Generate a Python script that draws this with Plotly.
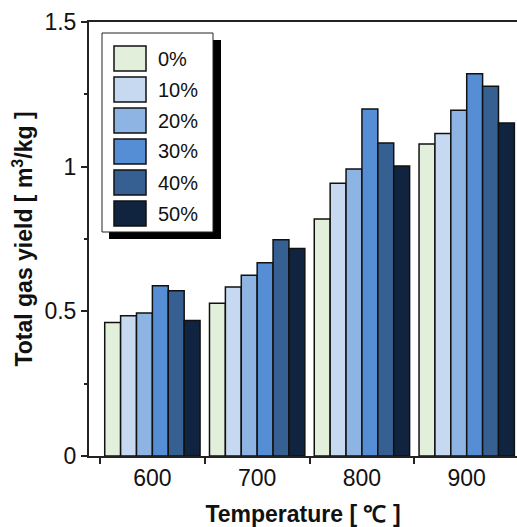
import plotly.graph_objects as go

temperatures = ["600", "700", "800", "900"]
series_names = ["0%", "10%", "20%", "30%", "40%", "50%"]
series_values = [
    [0.461, 0.528, 0.819, 1.078],
    [0.485, 0.584, 0.943, 1.115],
    [0.494, 0.625, 0.992, 1.195],
    [0.588, 0.668, 1.199, 1.321],
    [0.571, 0.747, 1.082, 1.278],
    [0.468, 0.717, 1.002, 1.151],
]
colors = ["#E2EFDA", "#C6D9F0", "#8EB4E3", "#558ED5", "#376092", "#10243F"]
y_ticks = [0, 0.5, 1, 1.5]
y_tick_labels = ["0", "0.5", "1", "1.5"]

W, H = 517, 527
L, R, T, B = 89, 0, 22, 71
FONT = "Arial, Liberation Sans, sans-serif"

fig = go.Figure()
for name, vals, col in zip(series_names, series_values, colors):
    fig.add_trace(go.Bar(
        x=temperatures, y=vals, name=name,
        marker=dict(color=col, line=dict(color="#111111", width=1.5)),
        showlegend=False,
    ))

# pixel -> paper helpers
pw, ph = W - L - R, H - T - B
def px(x):
    return (x - L) / pw
def py(y):
    return (H - B - y) / ph

shapes = []
annotations = []
# legend shadow and box
shapes.append(dict(type="rect", xref="paper", yref="paper",
                   x0=px(109), x1=px(221), y0=py(239), y1=py(40),
                   fillcolor="#000000", line=dict(width=0), layer="above"))
shapes.append(dict(type="rect", xref="paper", yref="paper",
                   x0=px(102), x1=px(213), y0=py(232), y1=py(33),
                   fillcolor="#ffffff", line=dict(color="#222222", width=1), layer="above"))
for i, (name, col) in enumerate(zip(series_names, colors)):
    top = 46 + 31 * i
    shapes.append(dict(type="rect", xref="paper", yref="paper",
                       x0=px(114), x1=px(146), y0=py(top + 25), y1=py(top),
                       fillcolor=col, line=dict(color="#111111", width=1.5), layer="above"))
    annotations.append(dict(xref="paper", yref="paper", x=px(156), y=py(top + 12.5),
                            text=name, showarrow=False, xanchor="left", yanchor="middle",
                            font=dict(family=FONT, size=20, color="#111111")))

fig.update_layout(
    width=W, height=H,
    margin=dict(l=L, r=R, t=T, b=B, autoexpand=False),
    paper_bgcolor="white", plot_bgcolor="white",
    barmode="group", bargap=0.09, bargroupgap=0,
    font=dict(family=FONT, size=20, color="#111111"),
    shapes=shapes, annotations=annotations,
)
fig.update_xaxes(
    range=[-0.605, 3.48], showline=True, linecolor="#222222", linewidth=2,
    mirror=True, ticks="outside", tickson="boundaries", ticklen=6, tickwidth=2,
    tickcolor="#222222", showgrid=False,
    title=dict(text="<b>Temperature [ ℃ ]</b>", font=dict(size=23), standoff=16),
    tickfont=dict(size=23),
)
fig.update_yaxes(
    range=[0, 1.5], showline=True, linecolor="#222222", linewidth=2,
    mirror=True, ticks="outside", ticklen=6, tickwidth=2, tickcolor="#222222",
    tickvals=y_ticks, ticktext=y_tick_labels, showgrid=False, zeroline=False,
    minor=dict(tickvals=[0.25, 0.75, 1.25], ticks="outside", ticklen=3,
               tickwidth=1.5, tickcolor="#222222"),
    title=dict(text="<b>Total gas yield [ m<sup>3</sup>/kg ]</b>", font=dict(size=23), standoff=5),
    tickfont=dict(size=23),
)

fig.write_html("out.html")
